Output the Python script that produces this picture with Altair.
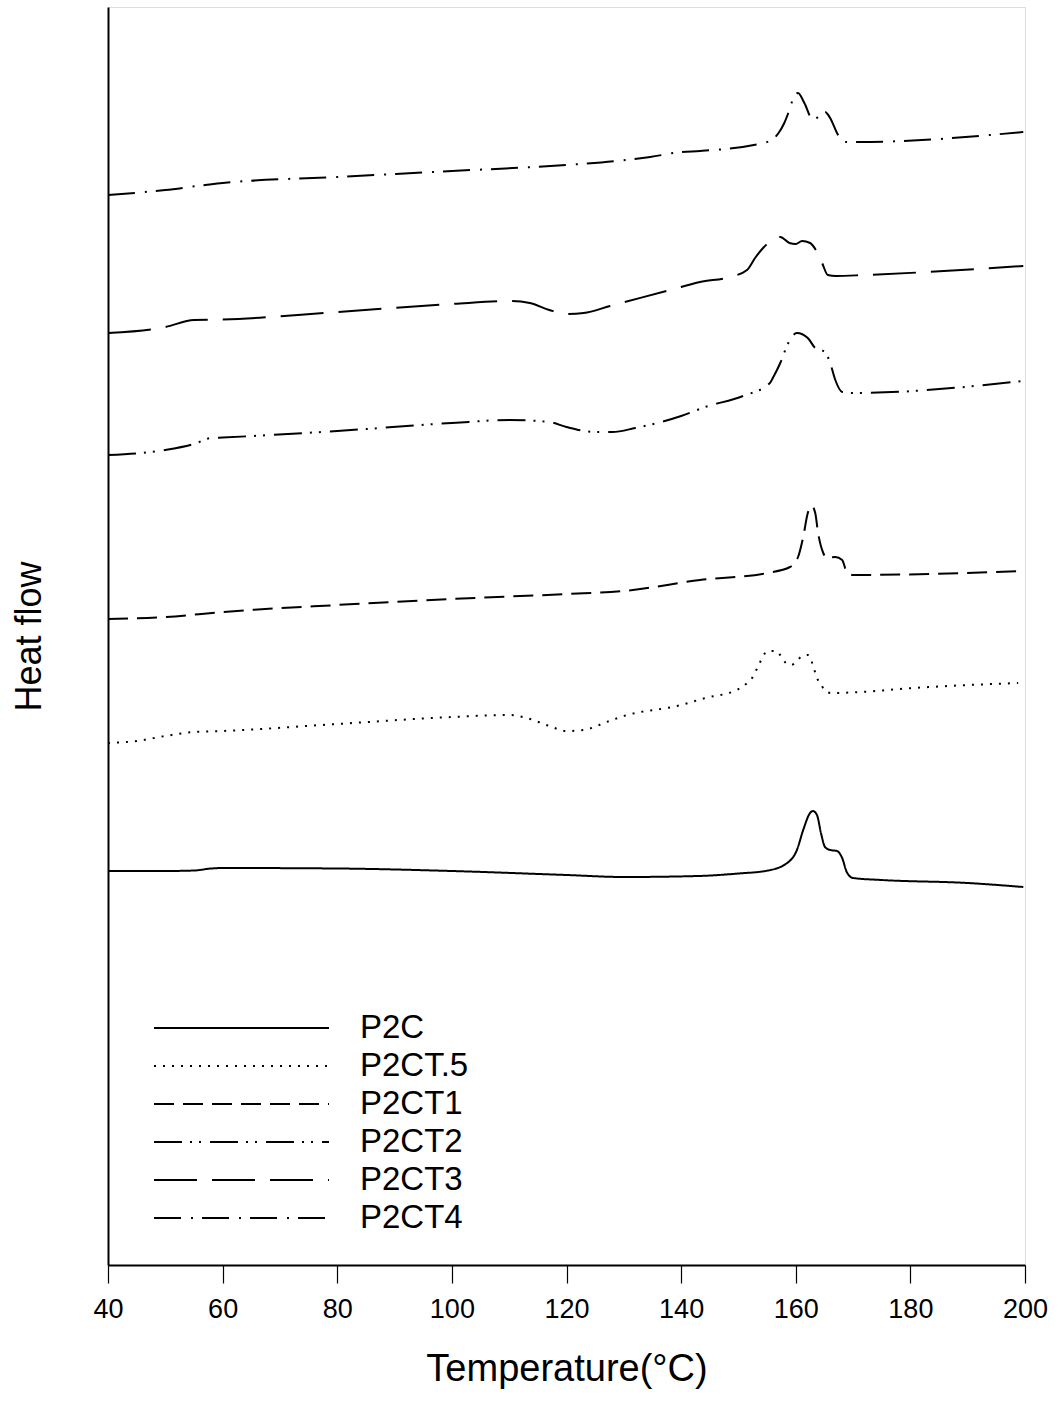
import altair as alt
import pandas as pd

FONT = "Liberation Sans"

series_names = ["P2C", "P2CT.5", "P2CT1", "P2CT2", "P2CT3", "P2CT4"]
dash_patterns = [[1, 0], [2, 7], [20, 9], [28, 8, 2, 7, 2, 9], [43, 15], [27, 10, 2, 9]]

# Temperature (deg C) and heat flow (arbitrary, vertically offset units)
p2c_t = [40, 50, 55, 58, 60, 80, 100, 120, 130, 143, 150, 155, 158.5, 160.2, 161.3, 162.5, 163, 163.7,
         164.4, 165.1, 166, 167.2, 168.1, 168.9, 170, 175, 190, 199.7]
p2c_h = [394, 394, 394.5, 396.5, 397, 396.5, 394, 390, 388, 389, 391.5, 394.3, 402, 415, 435, 452, 454, 450,
         432, 418, 415, 414, 407, 393, 387, 385, 382, 378]

p2ct05_t = [40, 45, 50, 55, 60, 80, 100, 110, 113, 117, 120, 123, 127, 130, 140, 144.2, 149.7, 151.7, 152.5,
            153.2, 153.8, 154.3, 155.2, 156.6, 157.4, 158.1, 159.2, 160.2, 161.1, 162.1, 162.8, 163.2, 163.7,
            164.4, 165.1, 166.3, 171.2, 180.5, 198.8]
p2ct05_h = [522, 524, 529, 533, 534, 541, 548, 550, 547, 539, 534, 535, 543, 549, 560, 567, 575, 583, 588,
            596, 603, 609, 614, 614, 609, 603, 600, 604, 609, 610, 603, 596, 587,
            581, 574, 572, 573, 577, 582]

p2ct1_t = [40, 50, 60, 80, 100, 120, 130, 143.3, 155, 159, 160.4, 161.3, 162.1, 162.8, 163.4, 163.9, 164.8,
           165.4, 166.9, 168.1, 168.9, 170, 199.7]
p2ct1_h = [646, 648, 653, 660, 666, 671, 674, 685, 692, 698, 708, 728, 752, 759, 752, 732, 712,
           707, 708, 705, 693, 690, 694]

p2ct2_t = [40, 50, 55, 58, 60, 80, 100, 110, 117, 120, 125, 128, 132, 140, 144.2, 150.8, 155.5, 156, 157.3,
           158.7, 160.2, 162.1, 163.4, 165.1, 166, 166.9, 168.1, 170, 199.7]
p2ct2_h = [810, 815, 821, 827, 827.5, 834, 842, 845, 843, 838, 833, 833, 837, 849, 858, 869, 882, 887, 902,
           922, 932, 927, 917, 913, 902, 885, 873, 872, 884]

p2ct3_t = [40, 50, 55, 60, 80, 100, 110, 113.6, 117, 120, 123, 127.6, 140, 143.3, 148.5, 151.5, 152.9, 154.3,
           157.3, 158.9, 160, 161.1, 162.5, 163.7, 164.6, 165.6, 167, 172, 199.7]
p2ct3_h = [932, 938, 945, 945.5, 953, 961, 964, 962, 955, 951, 952, 959, 978, 983, 988, 995, 1007, 1017,
           1028, 1022, 1021, 1024, 1022, 1013, 1002, 990, 989, 990, 999]

p2ct4_t = [40, 50, 57, 60, 80, 100, 120, 128.6, 134.6, 140, 143.3, 155, 157, 158, 158.7, 159.6, 160.4, 161.5,
           163, 165.1, 166, 167.2, 168.1, 168.9, 171, 199.7]
p2ct4_h = [1070, 1075, 1080, 1082, 1088, 1094, 1100, 1104, 1108, 1113, 1114, 1123, 1132, 1142, 1152, 1167,
           1172, 1162, 1145, 1153, 1147, 1132, 1124, 1123, 1123, 1133]

x_ticks = [40, 60, 80, 100, 120, 140, 160, 180, 200]

rows = []
for name, ts, hs in zip(series_names,
                        [p2c_t, p2ct05_t, p2ct1_t, p2ct2_t, p2ct3_t, p2ct4_t],
                        [p2c_h, p2ct05_h, p2ct1_h, p2ct2_h, p2ct3_h, p2ct4_h]):
    for i, (t, h) in enumerate(zip(ts, hs)):
        rows.append({"series": name, "T": t, "H": h, "order": i})
df = pd.DataFrame(rows)

chart = alt.Chart(df).mark_line(
    color="black", strokeWidth=2, interpolate="monotone", strokeCap="butt"
).encode(
    x=alt.X("T:Q", scale=alt.Scale(domain=[40, 200], nice=False),
            axis=alt.Axis(values=x_ticks, title="Temperature(°C)", grid=False, tickSize=18,
                          tickColor="black", tickWidth=1.2, domainColor="black", domainWidth=2,
                          labelFontSize=27, labelPadding=13, labelFont=FONT, labelColor="black",
                          titleFont=FONT, titleFontSize=38, titleFontWeight="normal",
                          titleColor="black", titlePadding=28, labelFlush=False)),
    y=alt.Y("H:Q", scale=alt.Scale(domain=[0, 1258], nice=False),
            axis=alt.Axis(title="Heat flow", ticks=False, labels=False, grid=False,
                          domainColor="black", domainWidth=2,
                          titleFont=FONT, titleFontSize=36, titleFontWeight="normal",
                          titleColor="black", titlePadding=60)),
    strokeDash=alt.StrokeDash("series:N",
                              scale=alt.Scale(domain=series_names, range=dash_patterns),
                              sort=series_names,
                              legend=alt.Legend(title=None, orient="none", legendX=45, legendY=1007,
                                                symbolType="stroke", symbolSize=30625,
                                                symbolStrokeWidth=2, symbolStrokeColor="black",
                                                clipHeight=28,
                                                labelFont=FONT, labelFontSize=33, labelColor="black",
                                                labelOffset=30, rowPadding=5, padding=0)),
    detail="series:N",
    order="order:Q",
).properties(
    width=917, height=1258,
    autosize=alt.AutoSizeParams(type="none"),
    padding={"left": 108, "top": 7, "right": 35, "bottom": 140},
).configure_view(
    stroke="black", strokeWidth=2
).configure(background="white")

chart.save("out.html", embed_options={"renderer": "svg", "actions": False})
